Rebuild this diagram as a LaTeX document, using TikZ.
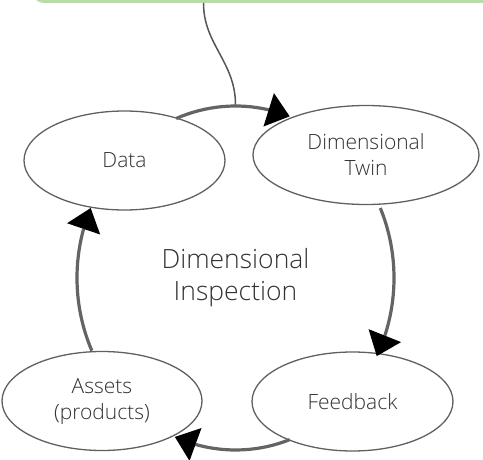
\documentclass[tikz,border=0pt]{standalone}
\usepackage{fontspec}
\IfFontExistsTF{Open Sans Light}
  {\setmainfont{Open Sans Light}}
  {\setmainfont{Open Sans}}
\usetikzlibrary{shapes.geometric,arrows.meta,bending,calc}
\definecolor{notegreen}{RGB}{182,220,168}
\definecolor{outline}{RGB}{96,96,96}
\definecolor{cyclegray}{RGB}{100,100,100}
\definecolor{tethergray}{RGB}{85,85,85}
\definecolor{labelgray}{RGB}{50,50,50}
\begin{document}
\begin{tikzpicture}[x=1pt,y=1pt,
  stage/.style={ellipse, draw=outline, line width=1.3pt, fill=white,
    inner sep=0pt, outer sep=0pt, text=labelgray,
    font=\fontsize{21}{26}\selectfont, align=center},
  cyclearc/.style={draw=cyclegray, line width=3.2pt,
    -{Triangle[length=22pt,width=35pt,line width=0pt,color=black]}},
  tether/.style={draw=tethergray, line width=1.5pt}]
\useasboundingbox (0,0) rectangle (483,-460);

% green note box running off the top edge
\begin{scope}
  \clip (0,0) rectangle (483,-460);
  \node[fill=notegreen, rounded corners=10pt, anchor=south west,
        minimum width=480pt, minimum height=40pt, inner sep=0pt] (note) at (33,-3) {};
\end{scope}

% central cycle with its title
\node[ellipse, inner sep=0pt, outer sep=0pt, minimum width=317pt, minimum height=344pt,
      text=labelgray, font=\fontsize{26.5}{32}\selectfont, align=center]
      (cyc) at (235.5,-278) {Dimensional\\Inspection};

% the four stages
\node[stage, minimum width=201pt, minimum height=99pt] (data) at (124.5,-160.5) {Data};
\node[stage, minimum width=226pt, minimum height=99pt] (twin) at (366,-155) {Dimensional\\Twin};
\node[stage, minimum width=200pt, minimum height=99pt] (assets) at (102,-401) {Assets\\(products)};
\node[stage, minimum width=201pt, minimum height=99pt] (feedback) at (352.5,-401.5) {Feedback};

% link from the note down to the cycle
\coordinate (tetherfoot) at (203.5,-3);
\draw[tether] (tetherfoot) .. controls (203.5,-45) and (236,-62) .. (cyc.north);

% clockwise arcs of the cycle
\draw[cyclearc] ($(cyc.center)+(112:158.5pt and 172pt)$)
  arc[start angle=112, end angle=70, x radius=158.5pt, y radius=172pt];
\draw[cyclearc] ($(cyc.center)+(24:158.5pt and 172pt)$)
  arc[start angle=24, end angle=-27, x radius=158.5pt, y radius=172pt];
\draw[cyclearc] ($(cyc.center)+(-70:158.5pt and 172pt)$)
  arc[start angle=-70, end angle=-112.5, x radius=158.5pt, y radius=172pt];
\draw[cyclearc] ($(cyc.center)+(205:158.5pt and 172pt)$)
  arc[start angle=205, end angle=156, x radius=158.5pt, y radius=172pt];
\end{tikzpicture}
\end{document}
